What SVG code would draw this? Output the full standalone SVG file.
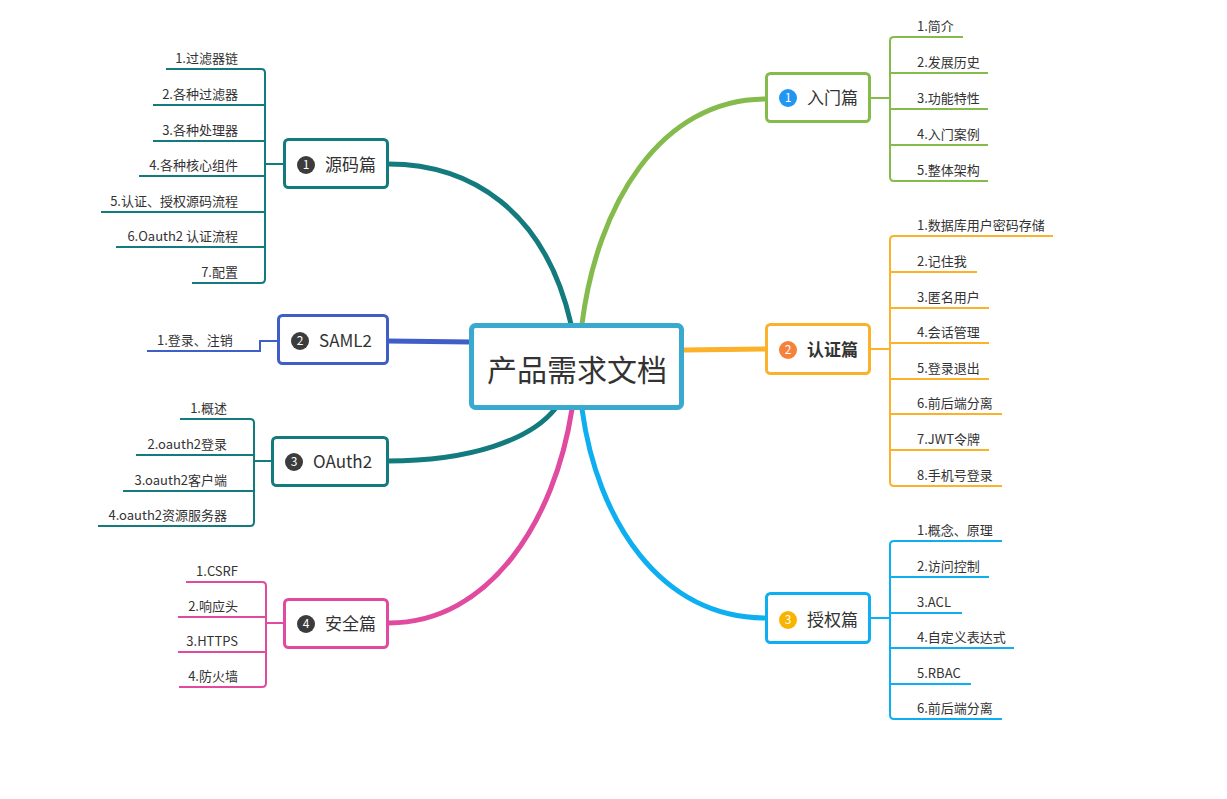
<svg xmlns="http://www.w3.org/2000/svg" width="1227" height="799" viewBox="0 0 1227 799">
<style>
text{font-family:"Microsoft YaHei","Noto Sans CJK SC","Noto Sans",sans-serif;fill:#333}
.leaf{font-size:13px}
.lt{font-size:13px;text-anchor:end}
.nt{font-size:17px}
.num{font-size:12px;fill:#fff;text-anchor:middle}
.box{fill:#fff;stroke-width:3}
.main{fill:none;stroke-width:5;stroke-linecap:round}
.br{fill:none;stroke-width:2}
.ul{fill:none;stroke-width:2}
.g{stroke:#84bb4c}.o{stroke:#fbb22a}.b{stroke:#0eaff0}.t{stroke:#137b7d}.s{stroke:#3f5ec8}.p{stroke:#e04a9f}
</style>
<rect width="1227" height="799" fill="#fff"/>
<g id="connectors">
<path class="main g" d="M582 324 C597 205 660 99 766 99"/>
<path class="main o" d="M684 350 L766 349"/>
<path class="main b" d="M582 409 C597 520 660 618 766 618"/>
<path class="main t" d="M388 164 C470 164 545 210 571 324"/>
<path class="main s" d="M388 341 L471 342"/>
<path class="main t" d="M388 461 C470 461 530 440 555 409"/>
<path class="main p" d="M572 409 C555 520 490 623 389 623"/>
<path class="br g" d="M870 98 H890 M894 37 Q890 37 890 41 V177 Q890 181 894 181"/>
<path class="br o" d="M870 349 H890 M894 236 Q890 236 890 240 V482 Q890 486 894 486"/>
<path class="br b" d="M870 618 H890 M894 541 Q890 541 890 545 V715 Q890 719 894 719"/>
<path class="br t" d="M284 164 H265 M261 69 Q265 69 265 73 V279 Q265 283 261 283"/>
<path class="br s" d="M278 341 H260 V351 H147"/>
<path class="br t" d="M272 461 H254 M250 419 Q254 419 254 423 V522 Q254 526 250 526"/>
<path class="br p" d="M284 623 H266 M262 582 Q266 582 266 586 V683 Q266 687 262 687"/>
</g>
<g id="center">
<rect x="471.5" y="325.5" width="210" height="82" rx="4" fill="#fff" stroke="#3aa9d0" stroke-width="5"/>
<text x="577" y="381" font-size="30" text-anchor="middle">产品需求文档</text>
</g>
<g id="node-rumen">
<rect class="box g" x="766.5" y="73.5" width="103" height="48" rx="4"/>
<circle cx="788" cy="98" r="9" fill="#2196f3"/>
<text class="num" x="788" y="102">1</text>
<text class="nt" x="807" y="104">入门篇</text>
</g>
<g id="leaves-rumen">
<path class="ul g" d="M894 37 H963 M890 73 H988 M890 109 H988 M890 145 H988 M894 181 H988"/>
<text class="leaf" x="917" y="31">1.简介</text>
<text class="leaf" x="917" y="67">2.发展历史</text>
<text class="leaf" x="917" y="103">3.功能特性</text>
<text class="leaf" x="917" y="139">4.入门案例</text>
<text class="leaf" x="917" y="175">5.整体架构</text>
</g>
<g id="node-renzheng">
<rect class="box o" x="766.5" y="324.5" width="103" height="49" rx="4"/>
<circle cx="788" cy="350" r="9" fill="#f5813a"/>
<text class="num" x="788" y="354">2</text>
<text class="nt" x="807" y="356" font-weight="bold">认证篇</text>
</g>
<g id="leaves-renzheng">
<path class="ul o" d="M894 236 H1053 M890 272 H977 M890 308 H989 M890 343 H989 M890 379 H989 M890 414 H1002 M890 450 H989 M894 486 H1002"/>
<text class="leaf" x="917" y="230">1.数据库用户密码存储</text>
<text class="leaf" x="917" y="266">2.记住我</text>
<text class="leaf" x="917" y="302">3.匿名用户</text>
<text class="leaf" x="917" y="337">4.会话管理</text>
<text class="leaf" x="917" y="373">5.登录退出</text>
<text class="leaf" x="917" y="408">6.前后端分离</text>
<text class="leaf" x="917" y="444">7.JWT令牌</text>
<text class="leaf" x="917" y="480">8.手机号登录</text>
</g>
<g id="node-shouquan">
<rect class="box b" x="766.5" y="593.5" width="103" height="49" rx="4"/>
<circle cx="788" cy="620" r="9" fill="#f8b400"/>
<text class="num" x="788" y="624">3</text>
<text class="nt" x="807" y="626">授权篇</text>
</g>
<g id="leaves-shouquan">
<path class="ul b" d="M894 541 H1002 M890 577 H989 M890 613 H962 M890 648 H1014 M890 684 H971 M894 719 H1002"/>
<text class="leaf" x="917" y="535">1.概念、原理</text>
<text class="leaf" x="917" y="571">2.访问控制</text>
<text class="leaf" x="917" y="607">3.ACL</text>
<text class="leaf" x="917" y="642">4.自定义表达式</text>
<text class="leaf" x="917" y="678">5.RBAC</text>
<text class="leaf" x="917" y="713">6.前后端分离</text>
</g>
<g id="node-yuanma">
<rect class="box t" x="284.5" y="139.5" width="103" height="48" rx="4"/>
<circle cx="306" cy="165" r="9" fill="#3c3c3c"/>
<text class="num" x="306" y="169">1</text>
<text class="nt" x="325" y="171">源码篇</text>
</g>
<g id="leaves-yuanma">
<path class="ul t" d="M166 69 H261 M153 105 H265 M153 141 H265 M139 176 H265 M101 212 H265 M116 247 H265 M192 283 H261"/>
<text class="lt" x="238" y="63">1.过滤器链</text>
<text class="lt" x="238" y="99">2.各种过滤器</text>
<text class="lt" x="238" y="135">3.各种处理器</text>
<text class="lt" x="238" y="170">4.各种核心组件</text>
<text class="lt" x="238" y="206">5.认证、授权源码流程</text>
<text class="lt" x="238" y="241">6.Oauth2 认证流程</text>
<text class="lt" x="238" y="277">7.配置</text>
</g>
<g id="node-saml2">
<rect class="box s" x="278.5" y="315.5" width="109" height="48" rx="4"/>
<circle cx="300" cy="341" r="9" fill="#3c3c3c"/>
<text class="num" x="300" y="345">2</text>
<text class="nt" x="319" y="347">SAML2</text>
</g>
<g id="leaves-saml2">
<text class="leaf" x="157" y="345">1.登录、注销</text>
</g>
<g id="node-oauth2">
<rect class="box t" x="272.5" y="437.5" width="115" height="48" rx="4"/>
<circle cx="294" cy="462" r="9" fill="#3c3c3c"/>
<text class="num" x="294" y="466">3</text>
<text class="nt" x="313" y="468">OAuth2</text>
</g>
<g id="leaves-oauth2">
<path class="ul t" d="M180 419 H250 M136 455 H254 M123 491 H254 M98 526 H250"/>
<text class="lt" x="227" y="413">1.概述</text>
<text class="lt" x="227" y="449">2.oauth2登录</text>
<text class="lt" x="227" y="485">3.oauth2客户端</text>
<text class="lt" x="227" y="520">4.oauth2资源服务器</text>
</g>
<g id="node-anquan">
<rect class="box p" x="284.5" y="599.5" width="103" height="48" rx="4"/>
<circle cx="306" cy="624" r="9" fill="#3c3c3c"/>
<text class="num" x="306" y="628">4</text>
<text class="nt" x="325" y="630">安全篇</text>
</g>
<g id="leaves-anquan">
<path class="ul p" d="M186 582 H262 M178 617 H266 M178 652 H266 M179 687 H262"/>
<text class="lt" x="238" y="576">1.CSRF</text>
<text class="lt" x="238" y="611">2.响应头</text>
<text class="lt" x="238" y="646">3.HTTPS</text>
<text class="lt" x="238" y="681">4.防火墙</text>
</g>
</svg>
